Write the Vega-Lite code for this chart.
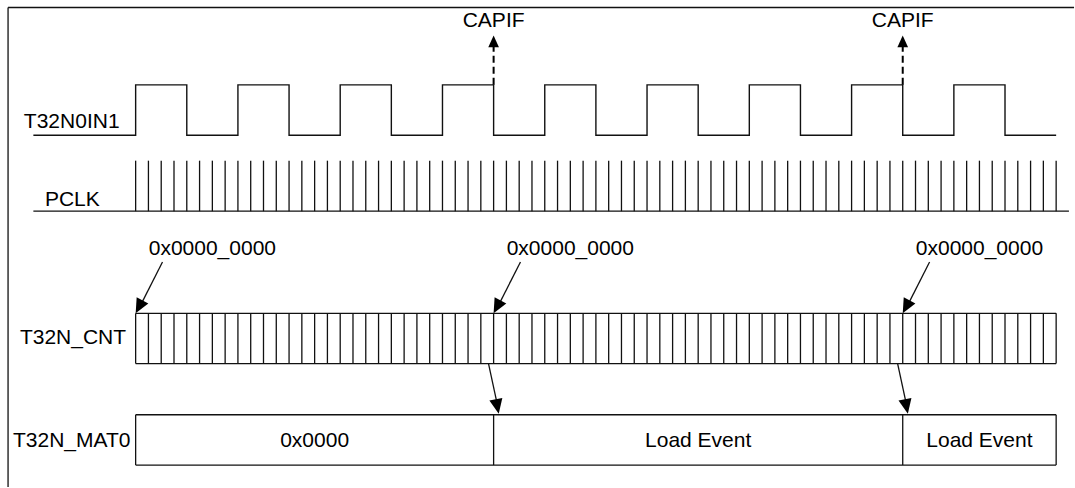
{
  "$schema": "https://vega.github.io/schema/vega-lite/v6.json",
  "width": 1075,
  "height": 488,
  "autosize": {"type": "fit", "contains": "padding"},
  "padding": 0,
  "background": "#ffffff",
  "config": {"view": {"stroke": null}},
  "datasets": {
    "segs": [
      {"t": -9.98, "t2": -9.98, "y": 7.5, "y2": 488},
      {"t": -9.98, "t2": 73.4, "y": 7.5, "y2": 7.5},
      {"t": -8, "t2": 73, "y": 211.6, "y2": 211.6},
      {"t": 0, "t2": 72, "y": 314, "y2": 314},
      {"t": 0, "t2": 72, "y": 364.3, "y2": 364.3},
      {"t": 0, "t2": 72, "y": 415.6, "y2": 415.6},
      {"t": 0, "t2": 72, "y": 466, "y2": 466},
      {"t": 0, "t2": 0, "y": 415.6, "y2": 466},
      {"t": 28, "t2": 28, "y": 415.6, "y2": 466},
      {"t": 60, "t2": 60, "y": 415.6, "y2": 466},
      {"t": 72, "t2": 72, "y": 415.6, "y2": 466},
      {"t": 2.1, "t2": 0.3, "y": 262.5, "y2": 308},
      {"t": 30.1, "t2": 28.3, "y": 262.5, "y2": 308},
      {"t": 62.1, "t2": 60.3, "y": 262.5, "y2": 308},
      {"t": 27.6, "t2": 28.3, "y": 364.3, "y2": 406},
      {"t": 59.6, "t2": 60.3, "y": 364.3, "y2": 406}
    ],
    "dashed": [
      {"t": 28, "y": 85, "y2": 44},
      {"t": 60, "y": 85, "y2": 44}
    ],
    "ticks": [
      {"t": 0}, {"t": 1}, {"t": 2}, {"t": 3}, {"t": 4}, {"t": 5}, {"t": 6}, {"t": 7}, {"t": 8}, {"t": 9},
      {"t": 10}, {"t": 11}, {"t": 12}, {"t": 13}, {"t": 14}, {"t": 15}, {"t": 16}, {"t": 17}, {"t": 18}, {"t": 19},
      {"t": 20}, {"t": 21}, {"t": 22}, {"t": 23}, {"t": 24}, {"t": 25}, {"t": 26}, {"t": 27}, {"t": 28}, {"t": 29},
      {"t": 30}, {"t": 31}, {"t": 32}, {"t": 33}, {"t": 34}, {"t": 35}, {"t": 36}, {"t": 37}, {"t": 38}, {"t": 39},
      {"t": 40}, {"t": 41}, {"t": 42}, {"t": 43}, {"t": 44}, {"t": 45}, {"t": 46}, {"t": 47}, {"t": 48}, {"t": 49},
      {"t": 50}, {"t": 51}, {"t": 52}, {"t": 53}, {"t": 54}, {"t": 55}, {"t": 56}, {"t": 57}, {"t": 58}, {"t": 59},
      {"t": 60}, {"t": 61}, {"t": 62}, {"t": 63}, {"t": 64}, {"t": 65}, {"t": 66}, {"t": 67}, {"t": 68}, {"t": 69},
      {"t": 70}, {"t": 71}, {"t": 72}
    ],
    "wave": [
      {"t": -8, "y": 135.6}, {"t": 0, "y": 85}, {"t": 4, "y": 135.6}, {"t": 8, "y": 85},
      {"t": 12, "y": 135.6}, {"t": 16, "y": 85}, {"t": 20, "y": 135.6}, {"t": 24, "y": 85},
      {"t": 28, "y": 135.6}, {"t": 32, "y": 85}, {"t": 36, "y": 135.6}, {"t": 40, "y": 85},
      {"t": 44, "y": 135.6}, {"t": 48, "y": 85}, {"t": 52, "y": 135.6}, {"t": 56, "y": 85},
      {"t": 60, "y": 135.6}, {"t": 64, "y": 85}, {"t": 68, "y": 135.6}, {"t": 72, "y": 135.6}
    ],
    "heads": [
      {"t": 0, "y": 314, "a": 27.8, "s": 860},
      {"t": 28, "y": 314, "a": 27.8, "s": 860},
      {"t": 60, "y": 314, "a": 27.8, "s": 860},
      {"t": 28.4, "y": 414.5, "a": -11.3, "s": 860},
      {"t": 60.4, "y": 414.5, "a": -11.3, "s": 860},
      {"t": 28, "y": 35.5, "a": 180, "s": 560},
      {"t": 60, "y": 35.5, "a": 180, "s": 560}
    ],
    "texts": [
      {"t": -5.0, "y": 128.3, "label": "T32N0IN1"},
      {"t": -4.95, "y": 206.7, "label": "PCLK"},
      {"t": -4.9, "y": 345, "label": "T32N_CNT"},
      {"t": -5.0, "y": 447.7, "label": "T32N_MAT0"},
      {"t": 28, "y": 27.3, "label": "CAPIF"},
      {"t": 60, "y": 27.3, "label": "CAPIF"},
      {"t": 6, "y": 256, "label": "0x0000_0000"},
      {"t": 34, "y": 256, "label": "0x0000_0000"},
      {"t": 66, "y": 256, "label": "0x0000_0000"},
      {"t": 14, "y": 447.7, "label": "0x0000"},
      {"t": 44, "y": 447.7, "label": "Load Event"},
      {"t": 66, "y": 447.7, "label": "Load Event"}
    ]
  },
  "layer": [
    {
      "data": {"name": "segs"},
      "mark": {"type": "rule", "color": "#111111", "strokeWidth": 1.3},
      "encoding": {
        "x": {"field": "t", "type": "quantitative", "scale": {"domain": [-10.61, 73.24], "nice": false, "zero": false}, "axis": null},
        "x2": {"field": "t2"},
        "y": {"field": "y", "type": "quantitative", "scale": {"domain": [0, 488], "reverse": true, "nice": false, "zero": false}, "axis": null},
        "y2": {"field": "y2"}
      }
    },
    {
      "data": {"name": "ticks"},
      "mark": {"type": "rule", "color": "#111111", "strokeWidth": 1.3},
      "encoding": {
        "x": {"field": "t", "type": "quantitative"},
        "y": {"datum": 161},
        "y2": {"datum": 211.6}
      }
    },
    {
      "data": {"name": "ticks"},
      "mark": {"type": "rule", "color": "#111111", "strokeWidth": 1.3},
      "encoding": {
        "x": {"field": "t", "type": "quantitative"},
        "y": {"datum": 314},
        "y2": {"datum": 364.3}
      }
    },
    {
      "data": {"name": "wave"},
      "mark": {"type": "line", "color": "#111111", "strokeWidth": 1.4, "interpolate": "step-after"},
      "encoding": {
        "x": {"field": "t", "type": "quantitative"},
        "y": {"field": "y", "type": "quantitative"}
      }
    },
    {
      "data": {"name": "dashed"},
      "mark": {"type": "rule", "color": "#000000", "strokeWidth": 2, "strokeDash": [7, 4]},
      "encoding": {
        "x": {"field": "t", "type": "quantitative"},
        "y": {"field": "y", "type": "quantitative"},
        "y2": {"field": "y2"}
      }
    },
    {
      "data": {"name": "heads"},
      "mark": {"type": "point", "shape": "M0,0L-0.45,-1L0.45,-1Z", "filled": true, "color": "#000000", "opacity": 1, "strokeWidth": 0},
      "encoding": {
        "x": {"field": "t", "type": "quantitative"},
        "y": {"field": "y", "type": "quantitative"},
        "angle": {"field": "a", "type": "quantitative", "scale": null},
        "size": {"field": "s", "type": "quantitative", "scale": null, "legend": null}
      }
    },
    {
      "data": {"name": "texts"},
      "mark": {"type": "text", "font": "Liberation Sans", "fontSize": 21, "color": "#000000", "align": "center", "baseline": "alphabetic"},
      "encoding": {
        "x": {"field": "t", "type": "quantitative"},
        "y": {"field": "y", "type": "quantitative"},
        "text": {"field": "label", "type": "nominal"}
      }
    }
  ]
}
